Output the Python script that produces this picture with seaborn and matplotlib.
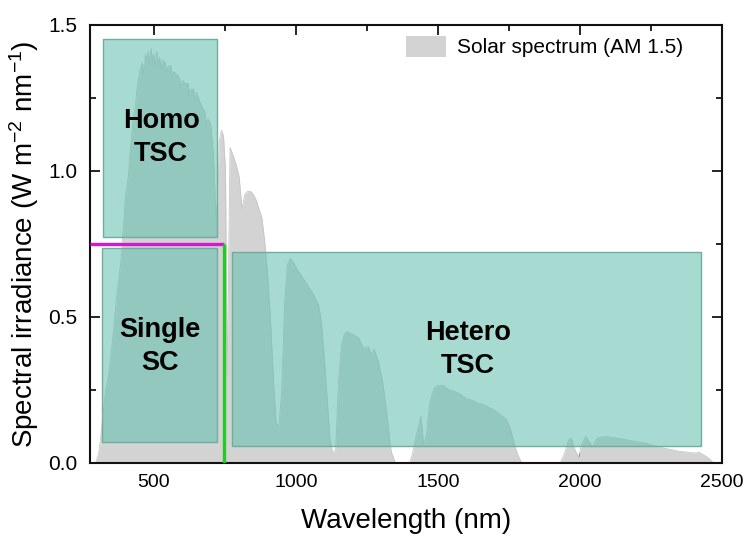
import numpy as np
import pandas as pd
import matplotlib
matplotlib.use("Agg")
import matplotlib.pyplot as plt
from matplotlib.patches import Rectangle, Patch
from matplotlib.ticker import MultipleLocator
import seaborn as sns

# ---- data ----
wavelength = [280, 295, 305, 312, 320, 330, 340, 350, 360, 370, 380, 385, 390, 395, 400,
              410, 415, 420, 425, 430, 435, 440, 445, 450, 455, 460, 465, 470, 475, 480, 485,
              490, 495, 500, 505, 510, 515, 520, 525, 530, 540, 545, 550, 560, 565, 570, 580,
              590, 595, 600, 610, 620, 625, 630, 640, 645, 650, 660, 670, 680, 685, 690, 700,
              710, 718, 725, 730, 738, 745, 752, 758, 762, 768,
              780, 790, 800, 810, 820, 830, 840, 850, 860, 870, 880, 890, 900, 910, 920,
              930, 940, 950, 960, 970, 980, 990, 1000, 1020, 1040, 1060, 1080, 1090, 1100,
              1110, 1120, 1130, 1140, 1150, 1160, 1170, 1180, 1200, 1220, 1240, 1255, 1265,
              1275, 1290, 1305, 1320, 1335, 1350, 1400, 1410, 1420, 1430, 1440, 1450, 1460,
              1470, 1480, 1490, 1500, 1520, 1540, 1560, 1580, 1600, 1620, 1640, 1660, 1680,
              1700, 1720, 1740, 1750, 1760, 1770, 1780, 1795, 1930, 1945, 1960, 1970, 1980,
              1995, 2005, 2020, 2035, 2045, 2060, 2080, 2100, 2130, 2160, 2200, 2230, 2260,
              2290, 2320, 2350, 2380, 2400, 2420, 2440, 2455, 2470]
irradiance = [0.0, 0.0, 0.03, 0.08, 0.16, 0.25, 0.30, 0.38, 0.48, 0.58, 0.66, 0.70, 0.78, 0.84, 0.92,
              0.98, 1.05, 1.10, 1.16, 1.20, 1.22, 1.28, 1.31, 1.34, 1.36, 1.37, 1.33, 1.40, 1.38, 1.41, 1.37,
              1.42, 1.38, 1.40, 1.36, 1.41, 1.37, 1.39, 1.35, 1.38, 1.37, 1.33, 1.36, 1.36, 1.32, 1.34, 1.33,
              1.32, 1.28, 1.31, 1.30, 1.30, 1.26, 1.28, 1.28, 1.24, 1.27, 1.24, 1.22, 1.20, 1.15, 1.18, 1.16,
              1.05, 0.85, 0.90, 1.10, 1.14, 1.12, 1.00, 0.30, 0.60, 1.08,
              1.05, 1.02, 0.98, 0.87, 0.92, 0.93, 0.93, 0.92, 0.90, 0.87, 0.84, 0.76, 0.65, 0.50, 0.30,
              0.14, 0.12, 0.25, 0.55, 0.68, 0.70, 0.69, 0.67, 0.64, 0.61, 0.58, 0.54, 0.48, 0.36,
              0.22, 0.08, 0.03, 0.05, 0.28, 0.40, 0.44, 0.45, 0.44, 0.43, 0.39, 0.40, 0.37,
              0.39, 0.35, 0.28, 0.17, 0.04, 0.0, 0.0, 0.03, 0.08, 0.12, 0.16, 0.06, 0.10,
              0.20, 0.24, 0.26, 0.265, 0.265, 0.25, 0.245, 0.235, 0.22, 0.215, 0.205, 0.20, 0.19,
              0.18, 0.165, 0.15, 0.13, 0.10, 0.06, 0.03, 0.0, 0.0, 0.03, 0.08, 0.085, 0.05,
              0.02, 0.06, 0.092, 0.07, 0.055, 0.085, 0.09, 0.09, 0.085, 0.08, 0.073, 0.068, 0.06,
              0.052, 0.046, 0.04, 0.037, 0.034, 0.036, 0.025, 0.015, 0.0]

box_names = ["Homo\nTSC", "Single\nSC", "Hetero\nTSC"]
box_x0 = [321, 317, 776]
box_x1 = [723, 723, 2427]
box_y0 = [0.774, 0.072, 0.058]
box_y1 = [1.452, 0.736, 0.722]
label_x = [525, 522, 1605]
label_y = [1.115, 0.40, 0.39]

cutoff_wl = 748
cutoff_e = 0.75

df = pd.DataFrame({"Wavelength": wavelength, "Irradiance": irradiance})

sns.set_theme(style="ticks")
plt.rcParams["font.family"] = ["Liberation Sans", "DejaVu Sans"]
plt.rcParams["mathtext.fontset"] = "custom"
plt.rcParams["mathtext.rm"] = "Liberation Sans"
plt.rcParams["mathtext.default"] = "regular"
plt.rcParams["text.color"] = "black"
plt.rcParams["axes.labelcolor"] = "black"
plt.rcParams["xtick.color"] = "black"
plt.rcParams["ytick.color"] = "black"

fig = plt.figure(figsize=(7.45, 5.36), dpi=100)
ax = fig.add_axes([90 / 745, 1 - 463 / 536, 632 / 745, 438 / 536])

gray = "#d3d3d3"
ax.fill_between(df["Wavelength"], 0, df["Irradiance"], color=gray, lw=0, zorder=1)
sns.lineplot(data=df, x="Wavelength", y="Irradiance", ax=ax, color="#c6c6c6", lw=0.6, zorder=1)

for x0, x1, y0, y1 in zip(box_x0, box_x1, box_y0, box_y1):
    ax.add_patch(Rectangle((x0, y0), x1 - x0, y1 - y0, facecolor="#5fbfae", alpha=0.55,
                           edgecolor="none", zorder=2))
    ax.add_patch(Rectangle((x0, y0), x1 - x0, y1 - y0, facecolor="none",
                           edgecolor="#6fae9f", lw=1.0, zorder=2))

for name, lx, ly in zip(box_names, label_x, label_y):
    ax.text(lx, ly, name, ha="center", va="center", fontsize=19.5, fontweight="bold",
            color="black", linespacing=1.35, zorder=4)

ax.plot([275, cutoff_wl], [cutoff_e, cutoff_e], color="#cc1ccc", lw=2.4, zorder=3,
        solid_capstyle="butt")
ax.plot([cutoff_wl, cutoff_wl], [0, cutoff_e], color="#22cc22", lw=2.4, zorder=3,
        solid_capstyle="butt")

ax.set_xlim(275, 2500)
ax.set_ylim(0, 1.5)
ax.xaxis.set_major_locator(MultipleLocator(500))
ax.xaxis.set_minor_locator(MultipleLocator(250))
ax.yaxis.set_major_locator(MultipleLocator(0.5))
ax.yaxis.set_minor_locator(MultipleLocator(0.25))
ax.set_yticks([0, 0.5, 1.0, 1.5])
ax.set_yticklabels(["0.0", "0.5", "1.0", "1.5"])
ax.tick_params(which="both", direction="in", top=True, right=True, width=1.2, colors="black",
               labelsize=14, pad=8)
ax.tick_params(axis="y", labelsize=15, pad=9)
ax.tick_params(which="major", length=7)
ax.tick_params(which="minor", length=4)
for sp in ax.spines.values():
    sp.set_linewidth(1.5)
    sp.set_color("#111111")

ax.set_xlabel("Wavelength (nm)", fontsize=20, labelpad=12, color="black")
ax.set_ylabel("Spectral irradiance (W m$^{-2}$ nm$^{-1}$)", fontsize=20, labelpad=5,
              color="black")

handle = Patch(facecolor=gray, edgecolor="none")
leg = ax.legend([handle], ["Solar spectrum (AM 1.5)"], loc="upper left",
                bbox_to_anchor=(0.5, 0.975), frameon=False, fontsize=15,
                handlelength=1.9, handleheight=1.15, handletextpad=0.55,
                borderpad=0, borderaxespad=0)
for t in leg.get_texts():
    t.set_color("black")

fig.savefig("out.png", dpi=100)
